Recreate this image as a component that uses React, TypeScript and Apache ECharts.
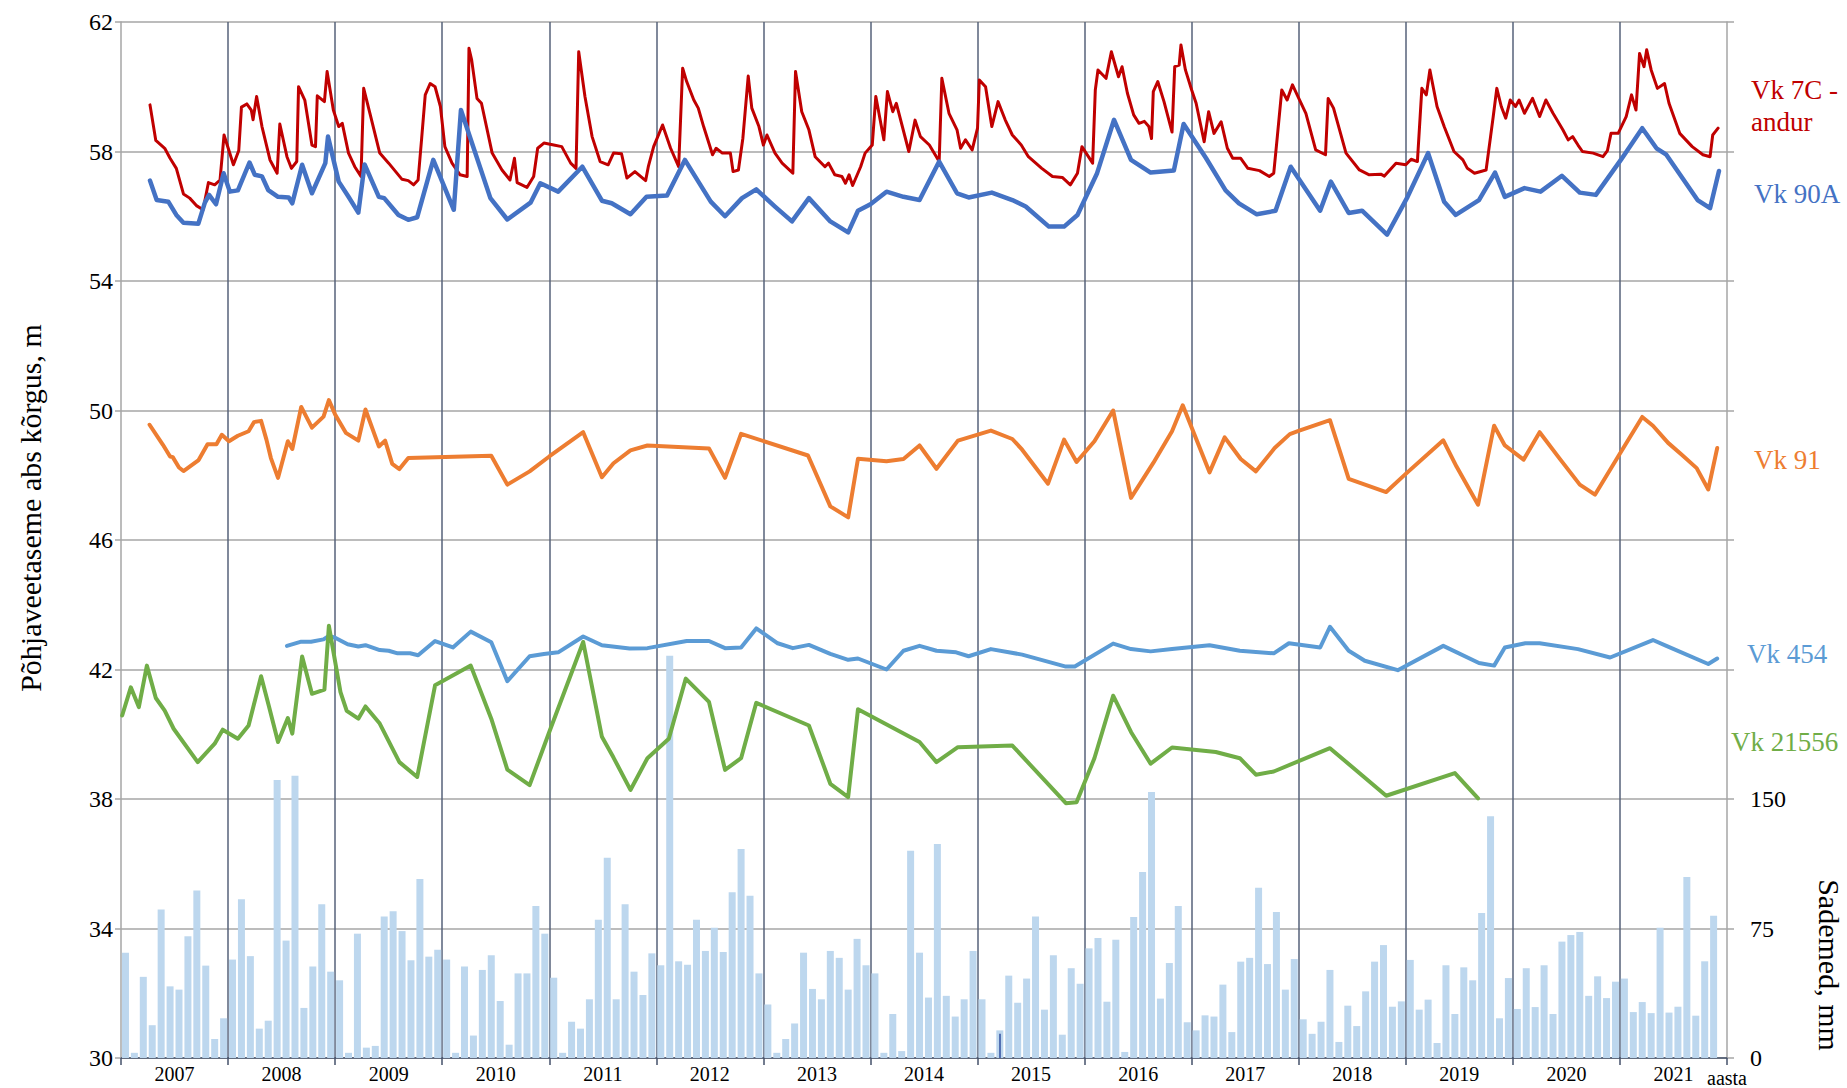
import React, { useEffect, useRef } from "react";
import * as echarts from "echarts";

const FONT = "'Liberation Serif', 'Times New Roman', serif";

// x values are months since January 2007 (0 = 1 Jan 2007, 180 = 1 Jan 2022)
const years = ["2007", "2008", "2009", "2010", "2011", "2012", "2013", "2014", "2015", "2016", "2017", "2018", "2019", "2020", "2021"];

// monthly precipitation, mm (Jan 2007 ... Dec 2021)
const precip2007_2010 = [
  61, 3, 47, 19, 86, 41.5, 39.6, 70.5, 97, 53.5, 11, 23,
  57, 92, 59, 17, 21.6, 161, 68, 163.5, 29, 53, 89, 50,
  45, 3, 72, 6, 7, 82, 85, 73.5, 56.6, 103.7, 58.7, 62.7,
  57, 3, 53, 13, 51, 59.5, 33, 7.7, 49, 49, 88, 72,
];
const precip2011_2014 = [
  46.5, 3, 21, 17, 34, 80, 116, 34, 89, 50, 36.5, 60.6,
  53.7, 233, 56, 54, 80, 62, 75.5, 61.4, 96, 121, 94, 49,
  31, 3, 11, 20, 61, 40, 34, 62, 58, 39.6, 69, 53.7,
  49, 3, 25.5, 4, 120, 61, 35, 124, 36, 24, 34, 62,
];
const precip2015_2018 = [
  34, 3, 16, 47.7, 32, 46, 82, 28, 59.5, 13.5, 52, 43,
  63.5, 69.5, 32.6, 68.5, 3.5, 81.7, 107.7, 154, 34.4, 55, 88, 20.7,
  16, 24.7, 24, 42.5, 15, 55.8, 58, 98.6, 54.4, 84.6, 39.6, 57.3,
  22.4, 14, 21, 51, 9.3, 30.3, 18.5, 38.6, 55.8, 65.4, 29.7, 32.8,
];
const precip2019_2021 = [
  56.8, 28, 33.8, 8.7, 53.7, 25.5, 52.5, 45, 84, 140, 23, 46.3,
  28.4, 52, 29.5, 53.7, 25.5, 67.4, 71.2, 73, 36, 47.3, 34.7, 44.2,
  46, 26.6, 32.4, 26, 75.5, 26.3, 29.7, 104.8, 24.5, 56, 82.4, null,
];
const precipitation = [...precip2007_2010, ...precip2011_2014, ...precip2015_2018, ...precip2019_2021];

// a thin dark mark inside March 2015
const thinMark = { month: 98, mm: 14 };

const vk7C = [
  [3.25, 59.44], [3.9, 58.34], [4.9, 58.1], [5.5, 57.79], [6.2, 57.48], [7.0, 56.69], [7.7, 56.56], [8.5, 56.32], [9.2, 56.2], [9.8, 57.04], [10.5, 56.97], [11.1, 57.12], [11.55, 58.51], [12.6, 57.59], [13.2, 58.03], [13.5, 59.37], [14.1, 59.47], [14.6, 59.28], [14.8, 58.98], [15.2, 59.7], [15.8, 58.77], [16.7, 57.74], [17.5, 57.33], [17.8, 58.85], [18.6, 57.84], [19.1, 57.48], [19.7, 57.69], [19.9, 60.0], [20.6, 59.59], [21.4, 58.2], [21.8, 58.15], [22.0, 59.72], [22.8, 59.54], [23.1, 60.47], [23.8, 59.28], [24.4, 58.77], [24.8, 58.87], [25.5, 57.95], [26.2, 57.53], [26.9, 57.23], [27.2, 59.95], [27.9, 59.18], [29.0, 57.95], [30.0, 57.64], [31.5, 57.14], [32.2, 57.1], [32.8, 56.97], [33.3, 57.12], [33.7, 58.41], [34.1, 59.75], [34.65, 60.1], [35.2, 60.0], [35.8, 59.39],
  [36.3, 58.15], [37.1, 57.64], [38.0, 57.28], [38.8, 57.23], [39.0, 61.19], [39.3, 60.83], [39.9, 59.64], [40.4, 59.49], [41.6, 57.95], [42.7, 57.43], [43.6, 57.12], [44.1, 57.79], [44.4, 57.04], [45.5, 56.89], [46.25, 57.23], [46.7, 58.1], [47.4, 58.26], [48.5, 58.2], [49.4, 58.15], [50.4, 57.64], [51.0, 57.48], [51.3, 61.08], [52.0, 59.7], [52.8, 58.46], [53.7, 57.69], [54.6, 57.59], [55.2, 57.95], [56.1, 57.93], [56.7, 57.18], [57.6, 57.38], [58.8, 57.1], [59.1, 57.53], [59.7, 58.15], [60.7, 58.82], [61.6, 58.1], [62.5, 57.53], [62.95, 60.57], [63.4, 60.16], [64.2, 59.59], [64.7, 59.34], [65.3, 58.77], [66.3, 57.9], [66.7, 58.1], [67.4, 57.95], [68.3, 57.95], [68.6, 57.38], [69.2, 57.43], [69.7, 58.41], [70.3, 60.33], [70.7, 59.34], [71.5, 58.77], [72.0, 58.2], [72.4, 58.51], [73.3, 57.95],
  [74.1, 57.64], [75.3, 57.33], [75.6, 60.47], [76.3, 59.23], [77.1, 58.67], [77.8, 57.84], [78.9, 57.53], [79.3, 57.64], [80.0, 57.28], [80.8, 57.23], [81.2, 57.02], [81.6, 57.28], [82.0, 56.95], [82.9, 57.53], [83.4, 57.95], [84.2, 58.2], [84.6, 59.7], [85.5, 58.36], [85.9, 59.85], [86.5, 59.23], [86.9, 59.49], [88.3, 58.0], [89.0, 58.97], [89.6, 58.46], [90.6, 58.2], [91.7, 57.69], [92.0, 60.26], [92.8, 59.18], [93.7, 58.67], [94.1, 58.1], [94.65, 58.36], [95.4, 58.05], [96.0, 58.72], [96.2, 60.21], [96.9, 60.0], [97.6, 58.77], [98.3, 59.54], [99.1, 58.98], [99.9, 58.51], [100.9, 58.2], [101.7, 57.84], [103.2, 57.48], [104.4, 57.23], [105.5, 57.2], [106.4, 56.97], [107.2, 57.33], [107.7, 58.15], [108.9, 57.64], [109.2, 59.9], [109.5, 60.52], [110.4, 60.26],
  [111.0, 61.08], [111.8, 60.31], [112.2, 60.62], [112.8, 59.8], [113.5, 59.13], [114.1, 58.87], [114.7, 58.93], [115.2, 58.77], [115.5, 58.4], [115.7, 59.85], [116.2, 60.16], [116.9, 59.54], [117.8, 58.6], [118.1, 60.62], [118.6, 60.67], [118.8, 61.29], [119.3, 60.52], [120.0, 59.9], [120.5, 59.49], [121.4, 58.3], [121.9, 59.23], [122.5, 58.56], [123.3, 58.92], [124.0, 58.1], [124.6, 57.79], [125.5, 57.79], [126.3, 57.48], [127.6, 57.41], [128.7, 57.23], [129.2, 57.33], [129.6, 58.46], [130.1, 59.9], [130.7, 59.59], [131.3, 60.06], [132.1, 59.59], [132.8, 59.18], [133.9, 58.05], [135.0, 57.9], [135.3, 59.64], [135.9, 59.34], [137.3, 57.95], [138.8, 57.43], [139.9, 57.28], [141.2, 57.3], [141.6, 57.24], [142.9, 57.64], [144.0, 57.59], [144.6, 57.76], [145.3, 57.69], [145.8, 59.95], [146.3, 59.75], [146.7, 60.52], [147.5, 59.39],
  [148.3, 58.77], [149.4, 58.0], [150.4, 57.74], [150.9, 57.48], [151.7, 57.33], [153.0, 57.43], [153.5, 58.46], [153.8, 59.08], [154.2, 59.95], [154.7, 59.39], [155.2, 59.03], [155.7, 59.59], [156.3, 59.39], [156.7, 59.59], [157.3, 59.18], [158.2, 59.64], [159.0, 59.08], [159.7, 59.59], [160.5, 59.18], [161.6, 58.67], [162.2, 58.36], [162.7, 58.46], [163.3, 58.2], [163.8, 58.0], [165.0, 57.95], [166.1, 57.84], [166.6, 58.03], [167.0, 58.56], [167.8, 58.56], [168.7, 59.08], [169.3, 59.75], [169.8, 59.28], [170.2, 61.03], [170.7, 60.62], [171.0, 61.14], [171.5, 60.52], [172.2, 59.95], [173.0, 60.1], [173.5, 59.49], [174.7, 58.56], [176.1, 58.15], [177.3, 57.9], [178.1, 57.84], [178.4, 58.51], [179.0, 58.72],
];

const vk90A = [
  [3.25, 57.1], [4.0, 56.5], [5.3, 56.45], [6.2, 56.04], [7.0, 55.8], [8.67, 55.77], [9.4, 56.42], [9.87, 56.66], [10.65, 56.37], [11.5, 57.33], [12.2, 56.76], [13.1, 56.8], [14.4, 57.66], [15.0, 57.28], [15.8, 57.23], [16.5, 56.81], [17.6, 56.6], [18.8, 56.58], [19.2, 56.4], [20.3, 57.59], [21.4, 56.71], [22.9, 57.64], [23.2, 58.46], [24.4, 57.07], [25.5, 56.6], [26.6, 56.11], [27.3, 57.6], [28.9, 56.6], [29.5, 56.56], [31.1, 56.04], [32.2, 55.89], [33.2, 55.97], [35.0, 57.74],
  [37.3, 56.2], [38.1, 59.28], [41.4, 56.56], [43.3, 55.9], [45.9, 56.42], [47.0, 57.02], [49.0, 56.76], [51.7, 57.53], [53.9, 56.48], [55.0, 56.4], [57.1, 56.06], [58.9, 56.6], [61.2, 56.64], [63.2, 57.74], [66.1, 56.45], [67.7, 56.0], [69.6, 56.56], [71.2, 56.83],
  [73.3, 56.3], [75.2, 55.84], [77.1, 56.56], [79.5, 55.84], [81.5, 55.5], [82.6, 56.17], [84.0, 56.37], [85.8, 56.76], [87.7, 56.6], [89.5, 56.5], [91.7, 57.69], [93.7, 56.71], [95.0, 56.58], [97.6, 56.73], [99.9, 56.5], [101.4, 56.3], [104.0, 55.68], [105.7, 55.68], [107.2, 56.04], [109.4, 57.33], [111.3, 58.98],
  [113.2, 57.74], [115.4, 57.35], [118.0, 57.41], [119.1, 58.85], [121.6, 57.8], [123.8, 56.8], [125.3, 56.4], [127.3, 56.06], [129.4, 56.17], [131.1, 57.53], [134.4, 56.17], [135.6, 57.07], [137.6, 56.1], [139.1, 56.17], [141.9, 55.43], [144.2, 56.6], [146.5, 57.95],
  [148.3, 56.45], [149.6, 56.04], [152.2, 56.5], [154.0, 57.35], [155.1, 56.6], [157.3, 56.87], [159.1, 56.76], [161.5, 57.25], [163.5, 56.73], [165.3, 56.66], [168.1, 57.74], [170.5, 58.72], [172.1, 58.1], [173.2, 57.9], [176.7, 56.5], [178.1, 56.25], [179.1, 57.4],
];

const vk91 = [
  [3.2, 49.56], [4.7, 48.94], [5.5, 48.58], [5.8, 48.56], [6.5, 48.24], [7.0, 48.13], [8.7, 48.47], [9.7, 48.96], [10.7, 48.96], [11.3, 49.25], [12.1, 49.05], [13.1, 49.22], [14.3, 49.36], [14.9, 49.64], [15.7, 49.68], [16.3, 49.1], [16.8, 48.53], [17.6, 47.92], [18.7, 49.05], [19.2, 48.81], [20.2, 50.11], [21.4, 49.47], [22.7, 49.81], [23.3, 50.32], [24.0, 49.88], [25.2, 49.31], [26.6, 49.07], [27.4, 50.03], [28.9, 48.89], [29.6, 49.07], [30.4, 48.35], [31.2, 48.19], [32.2, 48.53],
  [41.5, 48.6], [43.3, 47.71], [45.8, 48.12], [48.0, 48.58], [51.8, 49.33], [53.9, 47.94], [55.2, 48.37], [57.1, 48.77], [59.0, 48.92], [65.9, 48.83], [67.7, 47.92], [69.5, 49.28], [77.0, 48.61], [79.5, 47.04], [81.5, 46.7], [82.6, 48.51], [85.8, 48.43], [87.7, 48.5], [89.5, 48.92], [91.4, 48.2], [93.8, 49.07], [97.5, 49.38], [99.9, 49.12], [101.0, 48.79], [103.9, 47.74], [105.7, 49.1], [107.1, 48.41], [109.1, 49.05], [111.2, 50.0], [113.2, 47.3], [115.7, 48.38], [117.8, 49.36], [119.0, 50.16], [122.0, 48.09], [123.7, 49.17],
  [125.5, 48.5], [127.2, 48.12], [129.3, 48.84], [131.0, 49.27], [131.9, 49.36], [135.5, 49.7], [137.6, 47.89], [141.8, 47.48], [143.9, 48.02], [148.2, 49.08], [149.7, 48.26], [152.1, 47.09], [153.9, 49.53], [155.1, 48.92], [157.2, 48.48], [159.0, 49.33], [161.2, 48.53], [163.5, 47.71], [165.2, 47.4], [167.8, 48.58], [170.5, 49.8], [171.7, 49.53], [173.4, 49.0], [174.9, 48.64], [176.6, 48.22], [177.9, 47.56], [178.9, 48.84],
];

const vk454 = [
  [18.6, 42.73], [20.2, 42.86], [21.3, 42.86], [22.7, 42.93], [23.3, 43.04], [24.0, 42.98], [25.4, 42.78], [26.6, 42.71], [27.4, 42.75], [29.0, 42.6], [30.0, 42.58], [31.0, 42.5], [32.4, 42.5], [33.3, 42.44], [35.2, 42.88], [37.2, 42.68], [39.2, 43.17], [41.5, 42.84], [43.3, 41.64], [45.8, 42.41], [47.4, 42.48], [49.0, 42.53], [51.8, 43.02], [53.9, 42.75], [57.0, 42.65], [59.0, 42.66],
  [63.4, 42.88], [65.9, 42.88], [67.7, 42.66], [69.5, 42.68], [71.2, 43.27], [73.6, 42.81], [75.3, 42.66], [77.1, 42.76], [79.5, 42.48], [81.5, 42.3], [82.6, 42.34], [85.8, 42.0], [87.7, 42.58], [89.5, 42.73], [91.4, 42.58], [93.6, 42.53], [95.0, 42.41], [97.5, 42.63], [101.0, 42.46], [105.9, 42.09], [106.9, 42.09], [111.2, 42.8], [113.2, 42.63], [115.4, 42.56], [117.8, 42.63], [122.0, 42.75],
  [125.4, 42.58], [129.2, 42.5], [130.9, 42.81], [134.4, 42.68], [135.5, 43.32], [137.6, 42.58], [139.4, 42.27], [143.1, 41.98], [148.2, 42.73], [152.2, 42.2], [153.9, 42.12], [155.1, 42.68], [157.4, 42.81], [159.0, 42.81], [163.3, 42.63], [166.9, 42.37], [171.7, 42.91], [173.2, 42.73], [177.9, 42.17], [178.9, 42.34],
];

const vk21556 = [
  [0.13, 40.58], [1.1, 41.45], [2.0, 40.84], [2.9, 42.12], [3.9, 41.12], [4.9, 40.73], [5.9, 40.17], [8.6, 39.14], [10.5, 39.71], [11.4, 40.14], [13.1, 39.86], [14.3, 40.27], [15.7, 41.79], [16.6, 40.84], [17.6, 39.76], [18.7, 40.5], [19.2, 40.02], [20.3, 42.4], [21.4, 41.25], [22.8, 41.38], [23.3, 43.35], [24.6, 41.3], [25.3, 40.72], [26.6, 40.48], [27.4, 40.86], [29.0, 40.33], [31.2, 39.14], [33.2, 38.68], [35.2, 41.51], [39.2, 42.12], [41.5, 40.48], [43.3, 38.91], [45.8, 38.43], [48.0, 40.07], [51.8, 42.85], [53.9, 39.92], [55.2, 39.28], [57.1, 38.28], [59.0, 39.26], [61.4, 39.86],
  [63.3, 41.72], [65.9, 41.0], [67.7, 38.9], [69.5, 39.26], [71.2, 40.97], [77.1, 40.27], [79.5, 38.47], [81.5, 38.06], [82.6, 40.77], [89.5, 39.76], [91.4, 39.14], [93.8, 39.6], [99.9, 39.65], [105.9, 37.87], [107.1, 37.9], [109.1, 39.26], [111.2, 41.19], [113.2, 40.07], [115.4, 39.09], [117.8, 39.59],
  [122.7, 39.45], [125.4, 39.26], [127.2, 38.75], [129.2, 38.85], [135.5, 39.57], [141.8, 38.1], [149.5, 38.8], [152.1, 38.02],
];

const levelTicks = { min: 30, max: 62, step: 4 };
const precipTicks = { min: 0, max: 600, step: 75, labelledUpTo: 150 };

const seriesLabels = [
  { text: "Vk 7C -", color: "#c00000", x: 1751, y: 90 },
  { text: "andur", color: "#c00000", x: 1751, y: 122 },
  { text: "Vk 90A", color: "#4472c4", x: 1754, y: 194 },
  { text: "Vk 91", color: "#ed7d31", x: 1754, y: 460 },
  { text: "Vk 454", color: "#5b9bd5", x: 1747, y: 654 },
  { text: "Vk 21556", color: "#70ad47", x: 1731, y: 742 },
];

export default function App() {
  const ref = useRef<HTMLDivElement>(null);

  useEffect(() => {
    if (!ref.current) return;
    const chart = echarts.init(ref.current, null, { renderer: "svg" });
    const grey = "#a6a6a6";
    const slate = "#56627a";

    const lineSeries = (name: string, data: number[][], color: string, width: number, z: number) => ({
      name,
      type: "line",
      xAxisIndex: 0,
      yAxisIndex: 0,
      data,
      showSymbol: false,
      symbol: "none",
      smooth: false,
      lineStyle: { color, width, join: "round", cap: "round" },
      itemStyle: { color },
      z,
    });

    chart.setOption({
      animation: false,
      backgroundColor: "#ffffff",
      textStyle: { fontFamily: FONT },
      grid: { left: 121, right: 120, top: 22, bottom: 30, containLabel: false },
      xAxis: [
        {
          type: "value",
          min: 0,
          max: 180,
          interval: 12,
          position: "bottom",
          axisLine: { show: true, onZero: false, lineStyle: { color: "#44516a", width: 1.5 } },
          axisTick: { show: true, length: 7, lineStyle: { color: "#44516a", width: 1.5 } },
          axisLabel: { show: false },
          splitLine: { show: true, showMinLine: false, showMaxLine: false, lineStyle: { color: slate, width: 1.5 } },
        },
        {
          type: "category",
          data: years,
          position: "bottom",
          boundaryGap: true,
          axisLine: { show: false },
          axisTick: { show: false },
          splitLine: { show: false },
          axisLabel: { fontSize: 20, color: "#000", margin: 6, fontFamily: FONT },
        },
      ],
      yAxis: [
        {
          type: "value",
          min: levelTicks.min,
          max: levelTicks.max,
          interval: levelTicks.step,
          position: "left",
          axisLine: { show: true, lineStyle: { color: grey, width: 1.5 } },
          axisTick: { show: true, length: 6, lineStyle: { color: grey, width: 1.5 } },
          axisLabel: { fontSize: 24, color: "#000", margin: 8, fontFamily: FONT },
          splitLine: { show: true, lineStyle: { color: grey, width: 1.5 } },
        },
        {
          type: "value",
          min: precipTicks.min,
          max: precipTicks.max,
          interval: precipTicks.step,
          position: "right",
          axisLine: { show: true, lineStyle: { color: grey, width: 1.5 } },
          axisTick: { show: true, length: 7, lineStyle: { color: grey, width: 1.5 } },
          axisLabel: {
            fontSize: 24,
            color: "#000",
            margin: 23,
            fontFamily: FONT,
            formatter: (v: number) => (v <= precipTicks.labelledUpTo ? String(v) : ""),
          },
          splitLine: { show: false },
        },
      ],
      series: [
        {
          name: "Sademed",
          type: "bar",
          xAxisIndex: 0,
          yAxisIndex: 1,
          data: precipitation.map((v, i) => [i + 0.5, v]),
          barWidth: 7,
          itemStyle: { color: "#bdd7ee" },
          z: 1,
          markLine: {
            silent: true,
            symbol: "none",
            label: { show: false },
            lineStyle: { color: "#2f4c9e", width: 1.5, type: "solid" },
            data: [[{ coord: [thinMark.month + 0.5, 0] }, { coord: [thinMark.month + 0.5, thinMark.mm] }]],
          },
        },
        lineSeries("Vk 454", vk454, "#5b9bd5", 4, 3),
        lineSeries("Vk 21556", vk21556, "#70ad47", 4, 4),
        lineSeries("Vk 91", vk91, "#ed7d31", 4, 5),
        lineSeries("Vk 7C - andur", vk7C, "#c00000", 3, 6),
        lineSeries("Vk 90A", vk90A, "#4472c4", 4.5, 7),
      ],
      graphic: [
        ...seriesLabels.map((l) => ({
          type: "text",
          x: l.x,
          y: l.y,
          silent: true,
          style: {
            text: l.text,
            fill: l.color,
            font: `27px ${FONT}`,
            textAlign: "left",
            textVerticalAlign: "middle",
          },
        })),
        {
          type: "text",
          x: 30,
          y: 508,
          rotation: Math.PI / 2,
          silent: true,
          style: {
            text: "Põhjaveetaseme abs kõrgus, m",
            fill: "#000",
            font: `30px ${FONT}`,
            textAlign: "center",
            textVerticalAlign: "middle",
          },
        },
        {
          type: "text",
          x: 1829,
          y: 965,
          rotation: -Math.PI / 2,
          silent: true,
          style: {
            text: "Sademed, mm",
            fill: "#000",
            font: `30px ${FONT}`,
            textAlign: "center",
            textVerticalAlign: "middle",
          },
        },
        {
          type: "text",
          x: 1727,
          y: 1078,
          silent: true,
          style: {
            text: "aasta",
            fill: "#000",
            font: `20px ${FONT}`,
            textAlign: "center",
            textVerticalAlign: "middle",
          },
        },
      ],
    });

    return () => chart.dispose();
  }, []);

  return (
    <div
      ref={ref}
      style={{ position: "fixed", left: 0, top: 0, width: 1847, height: 1088, background: "#fff" }}
    />
  );
}
